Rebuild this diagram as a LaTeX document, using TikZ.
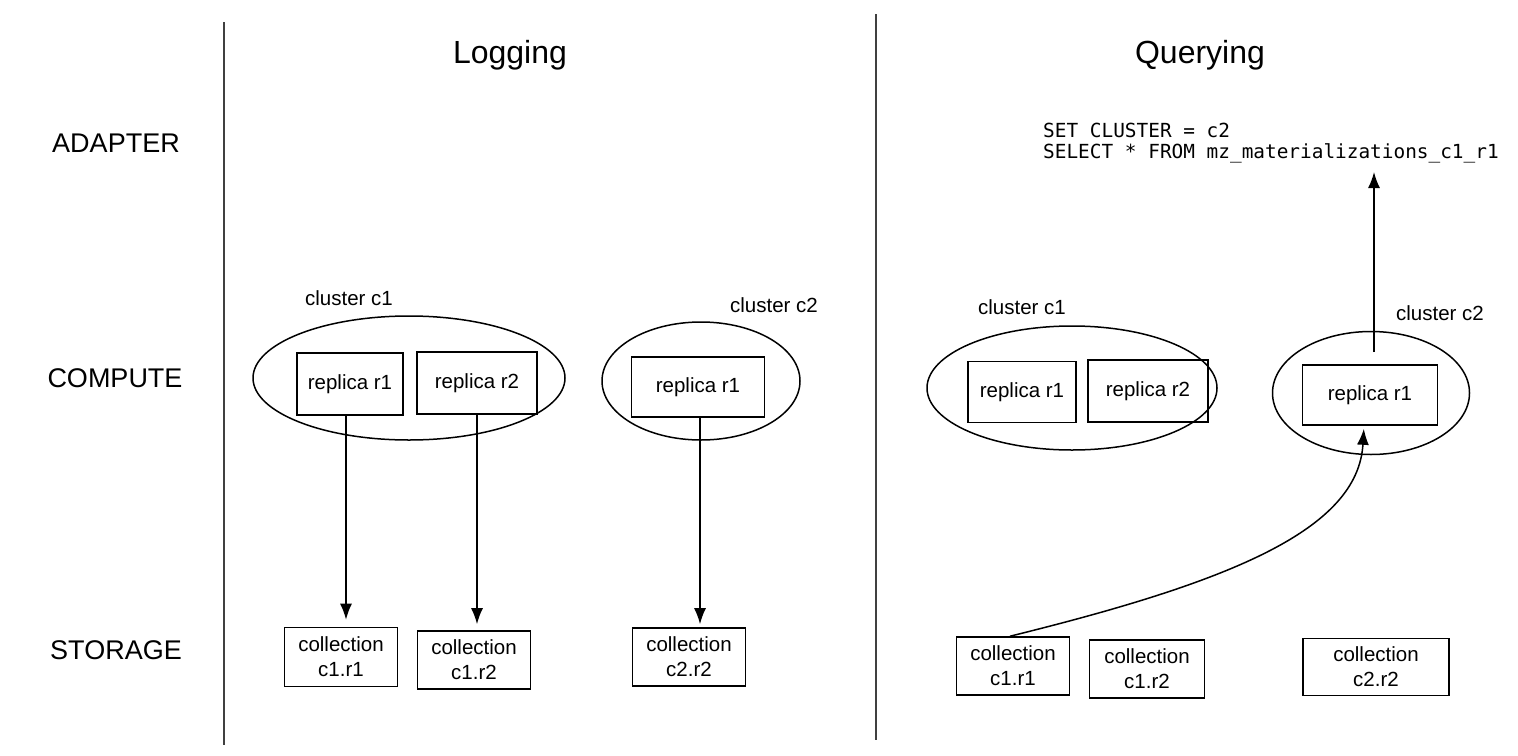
\documentclass[tikz,border=0pt]{standalone}
\usepackage{fontspec}
\setmainfont{Liberation Sans}
\setmonofont{DejaVu Sans Mono}
\usetikzlibrary{shapes.geometric,arrows.meta}
\begin{document}
\begin{tikzpicture}[x=1pt,y=-1pt,
  layer/.style={font=\fontsize{27}{32}\selectfont},
  title/.style={font=\fontsize{32}{36}\selectfont},
  txt/.style={font=\fontsize{20.5}{24}\selectfont},
  rep/.style={draw, line width=1.6pt, inner sep=0pt, font=\fontsize{20.5}{24}\selectfont},
  coll/.style={draw, line width=1.6pt, inner sep=0pt, align=center, font=\fontsize{20.5}{25}\selectfont},
  clus/.style={draw, ellipse, line width=1.5pt, inner sep=0pt},
  sqlstyle/.style={font=\ttfamily\fontsize{19.4}{21}\selectfont, align=left, inner sep=0pt},
  divider/.style={line width=1.6pt, black!75},
  arr/.style={line width=1.5pt, -{Latex[length=16pt,width=12pt]}}]
\useasboundingbox (0,0) rectangle (1518,755);
% dividers
\coordinate (d1t) at (224,22);  \coordinate (d1b) at (224,745);
\coordinate (d2t) at (876,14);  \coordinate (d2b) at (876,740);
\draw[divider] (d1t) -- (d1b);
\draw[divider] (d2t) -- (d2b);
% layer labels and titles
\node[layer] (adapter) at (116,143) {ADAPTER};
\node[layer] (compute) at (115,378) {COMPUTE};
\node[layer] (storage) at (116,650) {STORAGE};
\node[title] (logging) at (510,55) {Logging};
\node[title] (querying) at (1200,55) {Querying};
% ---- Logging side ----
\node[clus, minimum width=312, minimum height=124] (cl1L) at (409,378) {};
\node[clus, minimum width=198, minimum height=118] (cl2L) at (701,381) {};
\node[txt] (cl1Llab) at (349,298) {cluster c1};
\node[txt] (cl2Llab) at (774,305) {cluster c2};
\node[rep, minimum width=106, minimum height=62] (r1L) at (350,384) {replica r1};
\node[rep, minimum width=120, minimum height=62] (r2L) at (477,383) {replica r2};
\node[rep, minimum width=133, minimum height=60] (r3L) at (698,387) {replica r1};
\node[coll, minimum width=113, minimum height=59] (c11L) at (341,657) {collection\\c1.r1};
\node[coll, minimum width=113, minimum height=58] (c12L) at (474,660) {collection\\c1.r2};
\node[coll, minimum width=113, minimum height=58] (c22L) at (689,657) {collection\\c2.r2};
\draw[arr, shorten >=7pt] ([xshift=-4pt]r1L.south) -- ([xshift=-4pt]r1L.south |- c11L.north);
\draw[arr, shorten >=6pt] (r2L.south) -- (r2L.south |- c12L.north);
\draw[arr, shorten >=3pt] ([xshift=2pt]r3L.south) -- ([xshift=2pt]r3L.south |- c22L.north);
% ---- Querying side ----
\node[clus, minimum width=290, minimum height=124] (cl1R) at (1072,388) {};
\node[clus, minimum width=197, minimum height=123] (cl2R) at (1371,393) {};
\node[txt] (cl1Rlab) at (1022,307) {cluster c1};
\node[txt] (cl2Rlab) at (1440,313) {cluster c2};
\node[rep, minimum width=108, minimum height=61] (r1R) at (1022,392) {replica r1};
\node[rep, minimum width=120, minimum height=62] (r2R) at (1148,391) {replica r2};
\node[rep, minimum width=135, minimum height=60] (r3R) at (1370,395) {replica r1};
\node[coll, minimum width=113, minimum height=58] (c11R) at (1013,666) {collection\\c1.r1};
\node[coll, minimum width=115, minimum height=58] (c12R) at (1147,669) {collection\\c1.r2};
\node[coll, minimum width=146, minimum height=57] (c22R) at (1376,667) {collection\\c2.r2};
\node[sqlstyle, anchor=west] (sql) at (1043,143) {SET CLUSTER = c2\\SELECT * FROM mz\_materializations\_c1\_r1};
\coordinate (sqlin) at (1374,172);
\draw[arr] ([xshift=4pt,yshift=12pt]r3R.north) -- (sqlin);
\draw[arr, shorten >=3pt] ([xshift=-3pt]c11R.north) .. controls (1230,582) and (1358,530) .. ([xshift=-6pt]r3R.south);
\end{tikzpicture}
\end{document}
